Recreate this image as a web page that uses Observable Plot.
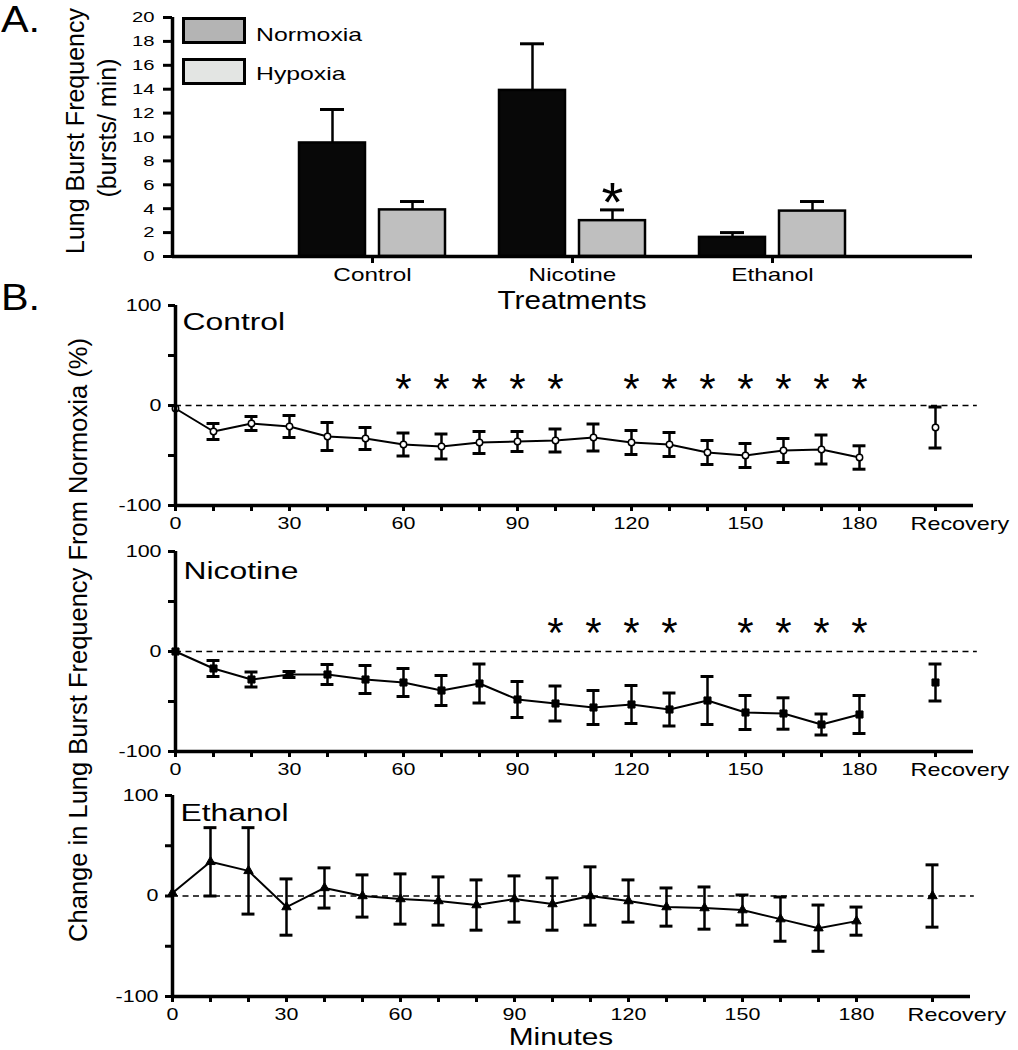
<!DOCTYPE html>
<html>
<head>
<meta charset="utf-8">
<script src="https://cdn.jsdelivr.net/npm/d3@7"></script>
<script src="https://cdn.jsdelivr.net/npm/@observablehq/plot@0.6"></script>
<style>
html, body { margin: 0; padding: 0; background: #fff; }
#fig { position: relative; width: 1018px; height: 1050px; overflow: hidden;
  font-family: "Liberation Sans", Arial, Helvetica, sans-serif; color: #000; }
#fig svg { position: absolute; left: 0; overflow: visible; }
.lab { position: absolute; white-space: nowrap; line-height: 1; }
.sw { position: absolute; box-sizing: border-box; border: 3.5px solid #000; }
</style>
</head>
<body>
<div id="fig"></div>
<script>
// ---------- Panel A data ----------
const treatments = ["Control", "Nicotine", "Ethanol"];
const normoxiaMean = [9.5, 13.9, 1.6];
const normoxiaSem = [2.8, 3.9, 0.4];
const hypoxiaMean = [3.9, 3.0, 3.8];
const hypoxiaSem = [0.7, 0.9, 0.8];
const hypoxiaSignificant = ["Nicotine"];
const burstTicks = [0, 2, 4, 6, 8, 10, 12, 14, 16, 18, 20];

// ---------- Panel B data ----------
const minutes = [0, 10, 20, 30, 40, 50, 60, 70, 80, 90, 100, 110, 120, 130, 140, 150, 160, 170, 180];
const minuteLabels = [0, 30, 60, 90, 120, 150, 180];
const recoveryAt = 200;
const recoveryLabel = "Recovery";
const percentTicks = [-100, -50, 0, 50, 100];
const percentLabels = [-100, 0, 100];

const controlChange = [-3, -26, -18, -21, -31, -33, -39, -41, -37, -36, -35, -32, -37, -39, -47, -50, -45, -44, -52];
const controlSem = [0, 8, 7, 11, 14, 11, 11.5, 12.5, 11, 10, 11.5, 13.5, 12, 12, 12, 12, 12, 14.5, 11.7];
const controlRecovery = -22, controlRecoverySem = 20.5;
const controlStars = [60, 70, 80, 90, 100, 120, 130, 140, 150, 160, 170, 180];

const nicotineChange = [0, -17, -28, -23, -23, -28, -31, -39, -32, -48, -52, -56, -53, -58, -49, -61, -62, -73, -63];
const nicotineSem = [0, 8, 7.5, 3, 10, 14, 14, 15, 19.5, 18, 17.5, 17, 19, 16.5, 24, 17, 15.7, 10.5, 19];
const nicotineRecovery = -31, nicotineRecoverySem = 18.5;
const nicotineStars = [100, 110, 120, 130, 150, 160, 170, 180];

const ethanolChange = [3, 34, 25, -11, 8, 0, -3, -5, -9, -3, -8, 0, -5, -11, -12, -14, -23, -32, -25];
const ethanolSem = [0, 34, 43, 28, 20, 21, 25, 24, 25, 23, 26, 29, 21, 19, 21, 15, 22, 23, 14];
const ethanolRecovery = 0, ethanolRecoverySem = 31;
const ethanolStars = [];

// ---------- helpers ----------
const FONT = '"Liberation Sans", Arial, Helvetica, sans-serif';
const fig = document.getElementById("fig");

function stretch(svg, sx) {
  svg.querySelectorAll("text").forEach(t => {
    if (t.textContent.trim() === "*") return;
    const tr = t.getAttribute("transform");
    if (tr) t.setAttribute("transform", tr + " scale(" + sx + ",1)");
  });
}
function place(svg, top) {
  svg.style.top = top + "px";
  fig.appendChild(svg);
}
function addLabel(text, o) {
  const d = document.createElement("div");
  d.className = "lab";
  d.textContent = text;
  d.style.fontSize = o.size + "px";
  d.style.left = o.x + "px";
  d.style.top = o.y + "px";
  if (o.rotate) {
    d.style.transform = "translate(-50%,-50%) rotate(-90deg)";
  } else if (o.anchor === "middle") {
    d.style.transformOrigin = "50% 0";
    d.style.transform = "translateX(-50%) scaleX(" + (o.sx || 1) + ")";
  } else {
    d.style.transformOrigin = "0 0";
    d.style.transform = "scaleX(" + (o.sx || 1) + ")";
  }
  fig.appendChild(d);
}
function addSwatch(o) {
  const d = document.createElement("div");
  d.className = "sw";
  Object.assign(d.style, { left: o.x + "px", top: o.y + "px", width: o.w + "px", height: o.h + "px", background: o.fill });
  fig.appendChild(d);
}

// ---------- Panel A ----------
const rowsA = treatments.flatMap((t, i) => [
  { t, pos: i + 1, cond: "Normoxia", off: -0.2, mean: normoxiaMean[i], sem: normoxiaSem[i] },
  { t, pos: i + 1, cond: "Hypoxia", off: 0.2, mean: hypoxiaMean[i], sem: hypoxiaSem[i] }
]);
const barHalf = 0.165, capA = 0.06;
const cx = d => d.pos + d.off;

const plotA = Plot.plot({
  width: 1018, height: 300,
  marginTop: 17, marginBottom: 44, marginLeft: 172, marginRight: 46,
  style: { fontFamily: FONT, color: "#000", background: "transparent", overflow: "visible" },
  x: { domain: [0, treatments.length + 1], axis: null },
  y: { domain: [0, 20], axis: null },
  marks: [
    Plot.ruleX(rowsA, { x: cx, y1: "mean", y2: d => d.mean + d.sem, stroke: "#000", strokeWidth: 2.5 }),
    Plot.ruleY(rowsA, { y: d => d.mean + d.sem, x1: d => cx(d) - capA, x2: d => cx(d) + capA, stroke: "#000", strokeWidth: 3 }),
    Plot.rectY(rowsA, {
      x1: d => cx(d) - barHalf, x2: d => cx(d) + barHalf, y1: 0, y2: "mean",
      fill: d => d.cond === "Normoxia" ? "#080808" : "#bfbfbf", stroke: "#000", strokeWidth: 2.5
    }),
    Plot.text(rowsA.filter(d => d.cond === "Hypoxia" && hypoxiaSignificant.includes(d.t)), {
      x: cx, y: d => d.mean + d.sem, text: () => "*", fontSize: 56, lineAnchor: "middle", dy: -7
    }),
    Plot.ruleX([0], { y1: 0, y2: 20, stroke: "#000", strokeWidth: 3.5 }),
    Plot.ruleY([0], { x1: 0, x2: treatments.length + 1, stroke: "#000", strokeWidth: 3.5 }),
    Plot.axisY({ ticks: burstTicks, tickSize: 9, tickPadding: 9, strokeWidth: 3, fontSize: 15, label: null }),
    Plot.axisX({ ticks: treatments.map((_, i) => i + 1), tickFormat: d => treatments[d - 1],
      tickSize: 7, tickPadding: 5, strokeWidth: 3, fontSize: 18, label: null })
  ]
});
stretch(plotA, 1.35);
place(plotA, 0);

// ---------- Panel B ----------
const capB = 1.7;
function timePanel(cfg) {
  const series = minutes.map((m, i) => ({ x: m, mean: cfg.means[i], sem: cfg.sems[i] }));
  const all = [...series, { x: recoveryAt, mean: cfg.recMean, sem: cfg.recSem }];
  const withErr = all.filter(d => d.sem > 0);
  const svg = Plot.plot({
    width: 1018, height: cfg.height,
    marginTop: cfg.mt, marginBottom: cfg.mb, marginLeft: cfg.ml, marginRight: cfg.mr,
    style: { fontFamily: FONT, color: "#000", background: "transparent", overflow: "visible" },
    x: { domain: [0, 210], axis: null },
    y: { domain: [-100, 100], axis: null },
    marks: [
      Plot.ruleY([0], { x1: 0, x2: 211, stroke: "#000", strokeWidth: 1.4, strokeDasharray: "6,4.5" }),
      Plot.line(series, { x: "x", y: "mean", stroke: "#000", strokeWidth: 2 }),
      Plot.ruleX(withErr, { x: "x", y1: d => d.mean - d.sem, y2: d => d.mean + d.sem, stroke: "#000", strokeWidth: 2.5 }),
      Plot.ruleY(withErr, { y: d => d.mean + d.sem, x1: d => d.x - capB, x2: d => d.x + capB, stroke: "#000", strokeWidth: 3 }),
      Plot.ruleY(withErr, { y: d => d.mean - d.sem, x1: d => d.x - capB, x2: d => d.x + capB, stroke: "#000", strokeWidth: 3 }),
      Plot.dot(all, { x: "x", y: "mean", symbol: cfg.symbol, r: cfg.r, fill: cfg.fill, stroke: "#000", strokeWidth: cfg.sw }),
      Plot.text(cfg.stars, { x: d => d, y: () => cfg.starY, text: () => "*", fontSize: 42, lineAnchor: "middle" }),
      Plot.ruleX([0], { y1: -100, y2: 100, stroke: "#000", strokeWidth: 3.5 }),
      Plot.ruleY([-100], { x1: 0, x2: 210, stroke: "#000", strokeWidth: 3.5 }),
      Plot.axisY({ ticks: percentTicks, tickFormat: d => percentLabels.includes(d) ? String(d) : "",
        tickSize: 7, tickPadding: 7, strokeWidth: 3, fontSize: 16.5, label: null }),
      Plot.axisX({ ticks: [...minutes, recoveryAt], tickFormat: d => minuteLabels.includes(d) ? String(d) : "",
        tickSize: 6, tickPadding: 6, strokeWidth: 3, fontSize: 16.5, label: null }),
      Plot.text([recoveryLabel], { x: () => recoveryAt, y: () => -100, text: d => d, lineAnchor: "top",
        textAnchor: "start", dx: -25, dy: 12, fontSize: 18 }),
      Plot.text([cfg.title], { frameAnchor: "top-left", text: d => d, dx: cfg.tdx, dy: cfg.tdy, fontSize: 24.5 })
    ]
  });
  stretch(svg, 1.3);
  place(svg, cfg.top);
}

timePanel({ title: "Control", means: controlChange, sems: controlSem, recMean: controlRecovery, recSem: controlRecoverySem,
  stars: controlStars, starY: 15.5, symbol: "circle", r: 3.2, fill: "#fff", sw: 1.5,
  top: 295, height: 245, mt: 10, mb: 35, ml: 175, mr: 45, tdx: 7, tdy: 7 });
timePanel({ title: "Nicotine", means: nicotineChange, sems: nicotineSem, recMean: nicotineRecovery, recSem: nicotineRecoverySem,
  stars: nicotineStars, starY: 18, symbol: "square", r: 4, fill: "#000", sw: 1,
  top: 540, height: 245, mt: 11, mb: 34, ml: 175, mr: 45, tdx: 8, tdy: 10 });
timePanel({ title: "Ethanol", means: ethanolChange, sems: ethanolSem, recMean: ethanolRecovery, recSem: ethanolRecoverySem,
  stars: ethanolStars, starY: 20, symbol: "triangle", r: 3.5, fill: "#000", sw: 1,
  top: 785, height: 265, mt: 10, mb: 54, ml: 172, mr: 48, tdx: 8, tdy: 8 });

// ---------- labels & legend ----------
addLabel("A.", { x: 1, y: 2, size: 36, sx: 1.15 });
addLabel("B.", { x: 1, y: 280, size: 36, sx: 1.15 });
addLabel("Lung Burst Frequency", { x: 75, y: 131, size: 25, rotate: true });
addLabel("(bursts/ min)", { x: 107, y: 128, size: 25, rotate: true });
addLabel("Treatments", { x: 572, y: 286.5, size: 26.5, sx: 1.12, anchor: "middle" });
addLabel("Change in Lung Burst Frequency From Normoxia (%)", { x: 79, y: 640, size: 25.5, rotate: true });
addLabel("Minutes", { x: 561, y: 1025.5, size: 23.5, sx: 1.27, anchor: "middle" });

addSwatch({ x: 182, y: 17, w: 64, h: 27, fill: "#b4b4b4" });
addSwatch({ x: 182, y: 58, w: 64, h: 27, fill: "#e3e5e3" });
addLabel("Normoxia", { x: 256, y: 26, size: 18.5, sx: 1.34 });
addLabel("Hypoxia", { x: 256, y: 65, size: 18.5, sx: 1.34 });
</script>
</body>
</html>
